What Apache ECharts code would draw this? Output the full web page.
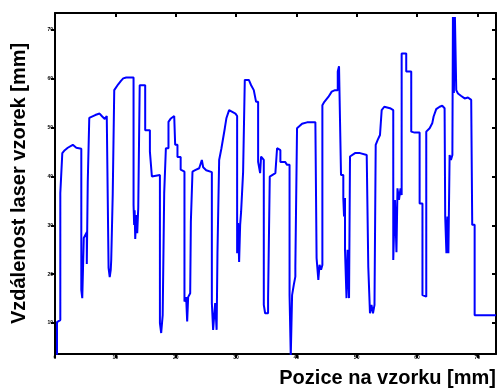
<!DOCTYPE html>
<html>
<head>
<meta charset="utf-8">
<script src="https://cdn.jsdelivr.net/npm/echarts@6/dist/echarts.min.js"></script>
<style>
  html, body { margin: 0; padding: 0; background: #fff; }
  #chart { width: 499px; height: 388px; }
</style>
</head>
<body>
<div id="chart"></div>
<script>
// Laser distance profile along the sample
const xTicks = [0, 10, 20, 30, 40, 50, 60, 70];
const yTicks = [10, 20, 30, 40, 50, 60, 70];

const posX = [
  0.33, 0.33, 0.63, 0.88, 0.88, 1.21, 1.21, 1.62, 2.12, 2.95, 3.53, 4.36, 4.36, 4.52, 4.69, 4.77,
  5.27, 5.27, 5.43, 5.43, 5.68, 5.68, 6.01, 6.67, 7.39, 7.83, 8.25, 8.58, 8.88, 8.88, 9.07, 9.24,
  9.32, 9.57, 9.57, 9.82, 9.82, 10.15, 10.48, 10.93, 11.31, 11.81, 13.02, 13.02, 13.12, 13.2, 13.3,
  13.46, 13.63, 13.8, 13.96, 14.04, 14.95, 14.95, 15.73, 15.73, 16.06, 16.06, 17.39, 17.39, 17.6,
  17.85, 18.1, 18.1, 18.38, 18.38, 18.81, 18.81, 19.21, 19.76, 19.92, 19.92, 20.3, 20.3, 20.83,
  20.83, 21.46, 21.46, 21.74, 21.91, 22.07, 22.41, 22.52, 22.79, 22.79, 23.23, 23.9, 24.34, 24.56,
  25.06, 26.0, 26.0, 26.21, 26.55, 26.79, 26.93, 27.21, 27.21, 27.59, 28.15, 28.42, 28.86, 29.08,
  29.91, 30.19, 30.19, 30.35, 30.52, 30.69, 30.85, 31.18, 31.18, 31.46, 31.46, 32.13, 32.51, 32.95,
  33.33, 33.67, 33.67, 34.0, 34.16, 34.61, 34.61, 34.83, 35.32, 35.32, 35.6, 35.6, 36.53, 36.81,
  36.81, 37.09, 37.36, 37.36, 38.14, 38.47, 38.88, 38.88, 39.08, 39.08, 39.3, 39.3, 39.58, 39.84,
  39.84, 40.12, 40.12, 40.41, 40.95, 41.78, 43.16, 43.36, 43.36, 43.65, 43.65, 43.85, 44.1, 44.32,
  44.32, 44.65, 45.31, 45.87, 46.42, 46.87, 46.87, 47.08, 47.41, 47.41, 47.79, 47.79, 47.91, 48.07,
  48.07, 48.32, 48.49, 48.74, 48.9, 48.9, 49.18, 49.73, 50.56, 50.84, 51.67, 51.93, 51.93, 52.21,
  52.21, 52.46, 52.71, 52.96, 53.16, 53.16, 53.49, 53.87, 54.15, 54.58, 55.53, 56.07, 56.07, 56.35,
  56.35, 56.6, 56.77, 57.02, 57.27, 57.46, 57.46, 58.22, 58.22, 59.05, 59.05, 59.61, 60.44, 60.44,
  60.91, 60.91, 61.1, 61.54, 61.54, 62.1, 62.53, 62.76, 63.19, 63.76, 64.19, 64.58, 64.68, 64.68,
  64.88, 65.05, 65.21, 65.41, 65.63, 65.63, 65.87, 65.96, 66.12, 66.29, 66.51, 66.79, 67.34, 67.9,
  68.45, 68.99, 69.16, 69.16, 69.56, 69.56, 73.1
];

const distY = [
  3.5, 10.2, 10.6, 10.6, 36.6, 36.6, 44.8, 45.4, 45.9, 46.5, 45.9, 45.7, 16.8, 15.1, 15.1, 27.4,
  28.6, 22.1, 22.1, 38.9, 38.9, 52.0, 52.4, 52.6, 52.9, 52.3, 51.8, 52.4, 52.4, 21.3, 19.4, 20.9,
  22.9, 22.9, 36.4, 36.6, 57.7, 58.1, 58.9, 59.6, 60.1, 60.3, 60.3, 34.2, 30.1, 33.1, 27.2,
  32.1, 28.4, 33.6, 33.6, 58.7, 58.7, 49.5, 49.5, 45.1, 45.1, 40.0, 40.3, 10.0, 7.95,
  11.6, 11.6, 36.6, 36.6, 45.8, 45.8, 51.2, 51.9, 52.4, 52.4, 46.5, 46.5, 44.0, 44.0,
  41.4, 41.0, 14.4, 15.3, 10.3, 15.3, 16.1, 30.7, 30.7, 41.0, 41.3, 41.7, 43.4, 41.9,
  41.3, 40.9, 14.1, 8.6, 14.1, 8.6, 24.3, 24.3, 43.4, 45.8, 49.9, 52.0, 53.6, 53.6,
  52.9, 52.4, 24.3, 30.5, 22.5, 30.1, 32.8, 32.8, 40.9, 40.9, 59.8, 59.8, 58.7, 57.7,
  55.3, 55.3, 43.0, 40.7, 44.1, 43.4, 13.7, 12.0, 12.0, 15.1, 15.1, 40.0, 40.7, 40.7,
  45.8, 46.0, 45.4, 43.0, 43.0, 42.4, 42.4, 15.7, 15.7, 3.2, 3.2, 15.7, 17.8, 19.5,
  21.7, 21.7, 49.9, 50.2, 50.8, 51.1, 51.1, 51.1, 23.3, 23.3, 18.8, 21.9, 20.9, 21.9,
  54.6, 55.3, 56.3, 57.4, 57.7, 57.7, 61.5, 62.6, 62.2, 40.3, 40.3, 35.6, 31.8, 35.6,
  25.0, 15.1, 25.0, 15.1, 15.1, 44.1, 44.4, 44.8, 44.8, 44.4, 44.4, 44.4, 21.5, 21.5,
  12.0, 13.7, 12.0, 13.7, 13.7, 46.5, 47.5, 48.5, 53.6, 54.3, 54.0, 53.6, 22.9, 22.9,
  35.2, 24.5, 37.6, 35.2, 37.6, 36.2, 65.2, 65.2, 61.5, 61.5, 49.2, 49.0, 49.0, 34.5,
  34.5, 15.7, 15.4, 15.4, 49.2, 49.9, 50.9, 52.3, 53.8, 54.3, 54.5, 54.0, 54.0, 31.8,
  24.3, 31.8, 24.3, 44.4, 44.4, 43.4, 44.4, 72.7, 57.1, 72.7, 57.7, 57.0, 56.5, 56.0,
  56.2, 55.7, 55.7, 30.1, 30.1, 11.6, 11.6
];

const profile = posX.map((x, i) => [x, distY[i]]);

const xMin = 0, xMax = 73.1;
const yMin = 3.65, yMax = 73.5;

const font = '"Liberation Sans", Arial, sans-serif';
const axisLine = { show: true, onZero: false, lineStyle: { color: '#000', width: 2 } };
const tinyLabel = { fontSize: 5, fontWeight: 'bold', color: '#000', fontFamily: font };

const chart = echarts.init(document.getElementById('chart'), null, { renderer: 'canvas' });
chart.setOption({
  animation: false,
  backgroundColor: '#fff',
  grid: { left: 55, right: 2, top: 13, bottom: 34, containLabel: false },
  xAxis: [
    {
      type: 'value', position: 'bottom', min: xMin, max: xMax,
      name: 'Pozice na vzorku [mm]', nameLocation: 'end', nameGap: 0,
      nameTextStyle: {
        fontSize: 20, fontWeight: 'bold', color: '#000', fontFamily: font,
        align: 'right', verticalAlign: 'top', padding: [14, 0, 0, 0]
      },
      axisLine: axisLine,
      axisTick: { show: true, inside: false, length: 4, customValues: xTicks, lineStyle: { color: '#000', width: 2 } },
      axisLabel: Object.assign({ show: true, margin: 1, customValues: xTicks }, tinyLabel),
      splitLine: { show: false }
    },
    {
      type: 'value', position: 'top', min: xMin, max: xMax,
      axisLine: axisLine,
      axisTick: { show: true, inside: true, length: 4, customValues: xTicks, lineStyle: { color: '#000', width: 2 } },
      axisLabel: { show: false },
      splitLine: { show: false }
    }
  ],
  yAxis: [
    {
      type: 'value', position: 'left', min: yMin, max: yMax,
      name: 'Vzdálenost laser vzorek [mm]', nameLocation: 'middle', nameGap: 26,
      nameTextStyle: { fontSize: 20, fontWeight: 'bold', color: '#000', fontFamily: font },
      axisLine: axisLine,
      axisTick: { show: true, inside: false, length: 4, customValues: yTicks, lineStyle: { color: '#000', width: 2 } },
      axisLabel: Object.assign({ show: true, margin: 2, customValues: yTicks }, tinyLabel),
      splitLine: { show: false }
    },
    {
      type: 'value', position: 'right', min: yMin, max: yMax,
      axisLine: axisLine,
      axisTick: { show: true, inside: true, length: 4, customValues: yTicks, lineStyle: { color: '#000', width: 2 } },
      axisLabel: { show: false },
      splitLine: { show: false }
    }
  ],
  series: [
    {
      type: 'line',
      xAxisIndex: 0, yAxisIndex: 0,
      data: profile,
      showSymbol: false,
      clip: true,
      lineStyle: { color: '#0000ff', width: 2 },
      itemStyle: { color: '#0000ff' }
    }
  ]
});
</script>
</body>
</html>
